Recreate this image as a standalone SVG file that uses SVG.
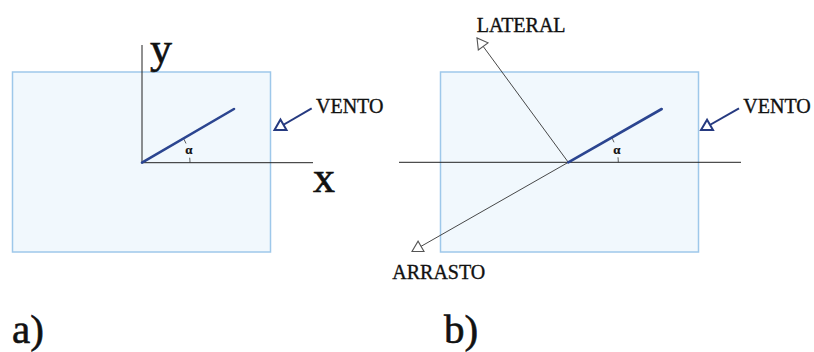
<svg xmlns="http://www.w3.org/2000/svg" width="814" height="352" viewBox="0 0 814 352">
<style>
.panel{fill:#f1f8fd;stroke:#9ec8ea;stroke-width:1.5}
.axis{stroke:#222;stroke-width:1;fill:none}
.thin{stroke:#333;stroke-width:0.9;fill:none}
.plate{stroke:#2b4590;stroke-width:2.6;stroke-linecap:round;fill:none}
.wind{stroke:#263a80;stroke-width:2;fill:none}
.arc{stroke:#333;stroke-width:0.8;fill:none}
.lbl{font-family:"Liberation Serif","Times New Roman",serif;fill:#111;stroke:#111}
.sm{font-size:20px;stroke-width:0.35}
.big{font-size:44px;stroke-width:0.6}
.alpha{font-size:13px;font-weight:bold;text-anchor:middle;stroke-width:0.2}
</style>
<defs>
<marker id="openBlk" viewBox="-13 -8 15 16" markerWidth="15" markerHeight="16" refX="0" refY="0" orient="auto" markerUnits="userSpaceOnUse">
<path d="M0,0 L-10.4,-6 L-10.4,6 Z" fill="#fff" stroke="#555" stroke-width="1.1" stroke-linejoin="miter"/>
</marker>
<marker id="openBlue" viewBox="-13 -8 15 16" markerWidth="15" markerHeight="16" refX="0" refY="0" orient="auto" markerUnits="userSpaceOnUse">
<path d="M0,0 L-10.4,-6 L-10.4,6 Z" fill="#fff" stroke="#263a80" stroke-width="2" stroke-linejoin="miter"/>
</marker>
</defs>

<g id="panel-a">
<rect class="panel" x="12.5" y="72" width="258" height="180"/>
</g>
<g id="panel-b">
<rect class="panel" x="440.5" y="72" width="258" height="180"/>
</g>

<g id="connectors">
<line class="axis" x1="142" y1="45" x2="142" y2="162.7"/>
<line class="axis" x1="142" y1="162.7" x2="313" y2="162.7"/>
<line class="axis" x1="399" y1="162.3" x2="741" y2="162.3"/>
<line class="thin" x1="568.3" y1="162.3" x2="477" y2="38" marker-end="url(#openBlk)"/>
<line class="thin" x1="568.3" y1="162.3" x2="412" y2="251.5" marker-end="url(#openBlk)"/>
<line class="wind" x1="311.7" y1="108.3" x2="274.5" y2="130" marker-end="url(#openBlue)"/>
<line class="wind" x1="739" y1="108.3" x2="701" y2="130" marker-end="url(#openBlue)"/>
<path class="arc" d="M183.6,138.7 A48,48 0 0,1 186,143.5"/>
<path class="arc" d="M189.7,157.7 A48,48 0 0,1 190,162.7"/>
<path class="arc" d="M611.6,137.3 A50,50 0 0,1 614,142.3"/>
<path class="arc" d="M618,157.3 A50,50 0 0,1 618.3,162.3"/>
</g>

<g id="plate-a">
<line class="plate" x1="142" y1="162.7" x2="234" y2="109"/>
</g>
<g id="plate-b">
<line class="plate" x1="568.3" y1="162.3" x2="661.7" y2="109"/>
</g>

<g id="labels">
<text class="lbl big" x="150" y="63">y</text>
<text class="lbl big" x="313" y="192">x</text>
<text class="lbl alpha" x="189" y="154">α</text>
<text class="lbl alpha" x="617" y="154">α</text>
<text class="lbl sm" x="316" y="113.3">VENTO</text>
<text class="lbl sm" x="743.3" y="113.3">VENTO</text>
<text class="lbl sm" x="476.7" y="32.3">LATERAL</text>
<text class="lbl sm" x="392.3" y="279.3">ARRASTO</text>
<text class="lbl big" x="12" y="343" style="font-size:41px">a)</text>
<text class="lbl big" x="444" y="343" style="font-size:41px">b)</text>
</g>
</svg>
